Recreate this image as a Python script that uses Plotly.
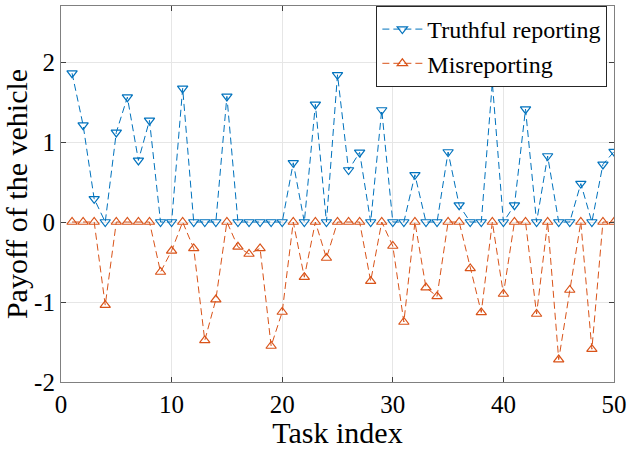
import plotly.graph_objects as go

task_index = list(range(1, 51))

truthful = [1.86, 1.21, 0.29, 0.0, 1.12, 1.56, 0.77, 1.27, 0.0, 0.0,
            1.67, 0.0, 0.0, 0.0, 1.57, 0.0, 0.0, 0.0, 0.0, 0.0,
            0.74, 0.0, 1.47, 0.0, 1.84, 0.65, 0.87, 0.0, 1.40, 0.0,
            0.0, 0.59, 0.0, 0.0, 0.875, 0.21, 0.0, 0.0, 1.74, 0.0,
            0.21, 1.41, 0.0, 0.825, 0.0, 0.0, 0.48, 0.0, 0.72, 0.88]

misreporting = [0.0, 0.0, 0.0, -1.04, 0.0, 0.0, 0.0, 0.0, -0.625, -0.36,
                0.0, -0.33, -1.48, -0.97, 0.0, -0.31, -0.40, -0.33, -1.55, -1.125,
                0.0, -0.69, 0.0, -0.45, 0.0, 0.0, 0.0, -0.74, 0.0, -0.30,
                -1.25, 0.0, -0.82, -0.93, 0.0, 0.0, -0.58, -1.13, 0.0, -0.90,
                0.0, 0.0, -1.15, 0.0, -1.72, -0.85, 0.0, -1.59, 0.0, 0.0]

x_ticks = [0, 10, 20, 30, 40, 50]
y_ticks = [-2, -1, 0, 1, 2]
y_tick_labels = ["-2", "-1", "0", "1", "2"]

BLUE = "#0072BD"
ORANGE = "#D95319"
FONT = "Liberation Serif"

fig = go.Figure()
fig.add_trace(go.Scatter(
    x=task_index, y=truthful, name="Truthful reporting",
    mode="lines+markers",
    line=dict(color=BLUE, dash="7px,4px", width=1),
    marker=dict(symbol="triangle-down-open", size=9, color=BLUE, line=dict(width=1.2)),
))
fig.add_trace(go.Scatter(
    x=task_index, y=misreporting, name="Misreporting",
    mode="lines+markers",
    line=dict(color=ORANGE, dash="7px,4px", width=1),
    marker=dict(symbol="triangle-up-open", size=9, color=ORANGE, line=dict(width=1.2)),
))

axis_common = dict(
    showgrid=True, gridcolor="#e6e6e6", gridwidth=1,
    showline=True, linecolor="#808080", linewidth=1.2, mirror="ticks",
    ticks="inside", ticklen=5, tickcolor="#404040",
    zeroline=False, automargin=False,
    tickfont=dict(family=FONT, size=25, color="black"),
)

fig.update_layout(
    width=629, height=449,
    margin=dict(l=61, r=15, t=6, b=67),
    paper_bgcolor="white", plot_bgcolor="white",
    font=dict(family=FONT, color="black"),
    showlegend=True,
    legend=dict(
        x=0.988, y=1.0, xanchor="right", yanchor="top",
        bgcolor="white", bordercolor="#262626", borderwidth=1,
        font=dict(family=FONT, size=24, color="black"),
        tracegroupgap=0, itemwidth=40,
    ),
    xaxis=dict(
        range=[0, 50], tickvals=x_ticks,
        title=dict(text="Task index", font=dict(family=FONT, size=30)),
        **axis_common,
    ),
    yaxis=dict(
        range=[-2, 2.7], tickvals=y_ticks, ticktext=y_tick_labels,
        title=dict(text="Payoff of the vehicle", font=dict(family=FONT, size=30)),
        **axis_common,
    ),
)

fig.write_html("out.html", config={"displayModeBar": False},
               post_script="document.body.style.margin='0px';")
